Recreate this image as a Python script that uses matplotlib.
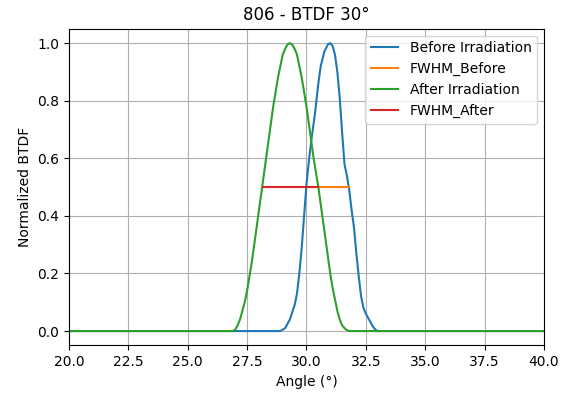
import matplotlib
matplotlib.use("Agg")
import matplotlib.pyplot as plt

# Normalized BTDF before irradiation
before_angle = [20.0, 28.9, 29.1, 29.3, 29.5, 29.6, 29.7, 29.8, 29.9, 30.0, 30.1,
                30.2, 30.35, 30.5, 30.6, 30.75, 30.9, 31.0, 31.1, 31.2, 31.3, 31.4,
                31.5, 31.6, 31.7, 31.8, 31.9, 32.0, 32.1, 32.2, 32.3, 32.4, 32.5,
                32.6, 32.7, 32.8, 32.9, 33.0, 40.0]
before_btdf = [0.0, 0.0, 0.01, 0.04, 0.09, 0.13, 0.2, 0.29, 0.4, 0.51, 0.59,
               0.66, 0.75, 0.86, 0.92, 0.97, 0.995, 1.0, 0.99, 0.96, 0.9, 0.81,
               0.69, 0.58, 0.54, 0.49, 0.42, 0.36, 0.27, 0.19, 0.12, 0.08, 0.06,
               0.045, 0.03, 0.015, 0.005, 0.0, 0.0]

# Normalized BTDF after irradiation
after_angle = [20.0, 26.9, 27.0, 27.1, 27.2, 27.3, 27.4, 27.5, 27.6, 27.7, 27.8,
               27.9, 28.0, 28.1, 28.2, 28.3, 28.4, 28.5, 28.6, 28.7, 28.8, 28.9,
               29.0, 29.1, 29.2, 29.3, 29.4, 29.5, 29.6, 29.7, 29.8, 29.9, 30.0,
               30.1, 30.2, 30.3, 30.4, 30.5, 30.6, 30.7, 30.8, 30.9, 31.0, 31.1,
               31.2, 31.3, 31.4, 31.5, 31.6, 31.7, 31.8, 40.0]
after_btdf = [0.0, 0.0, 0.005, 0.02, 0.04, 0.07, 0.1, 0.14, 0.19, 0.24, 0.3,
              0.36, 0.42, 0.48, 0.54, 0.6, 0.66, 0.72, 0.78, 0.83, 0.88, 0.92,
              0.96, 0.98, 0.995, 1.0, 0.995, 0.98, 0.96, 0.92, 0.88, 0.83, 0.78,
              0.72, 0.66, 0.6, 0.55, 0.5, 0.44, 0.38, 0.32, 0.26, 0.2, 0.15,
              0.11, 0.07, 0.04, 0.02, 0.01, 0.003, 0.0, 0.0]

fwhm_before = [29.98, 31.8]
fwhm_after = [28.15, 30.5]
half_max = 0.5

fig = plt.figure(figsize=(5.72, 3.93), dpi=100)
ax = fig.add_axes([0.1206, 0.121, 0.8304, 0.806])

ax.plot(before_angle, before_btdf, color="tab:blue", label="Before Irradiation")
ax.plot(fwhm_before, [half_max, half_max], color="tab:orange", label="FWHM_Before")
ax.plot(after_angle, after_btdf, color="tab:green", label="After Irradiation")
ax.plot(fwhm_after, [half_max, half_max], color="tab:red", label="FWHM_After")

ax.set_xlim(20, 40)
ax.set_ylim(-0.05, 1.05)
ax.set_title("806 - BTDF 30°")
ax.set_xlabel("Angle (°)")
ax.set_ylabel("Normalized BTDF")
ax.grid(True)
ax.legend(loc="upper right")

fig.savefig("out.png", dpi=100)
